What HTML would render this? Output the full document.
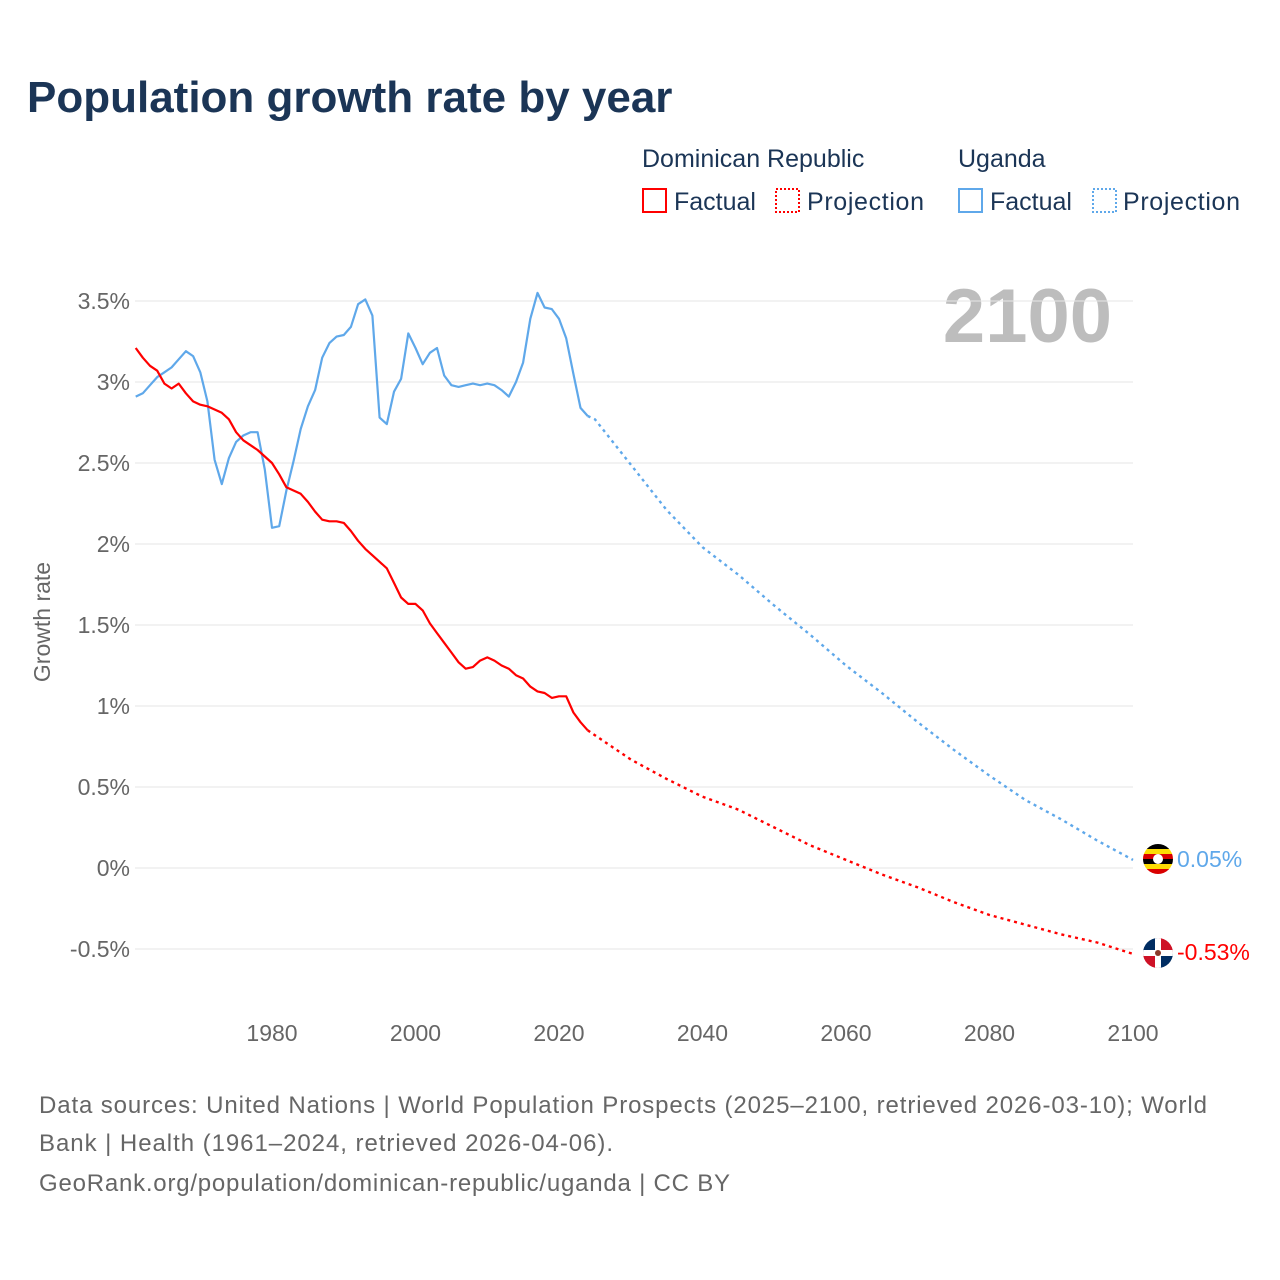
<!DOCTYPE html>
<html><head><meta charset="utf-8">
<style>
body{margin:0;background:#fff;font-family:"Liberation Sans",sans-serif;}
#wrap{position:relative;width:1280px;height:1280px;overflow:hidden;}
</style></head>
<body><div id="wrap">
<svg id="chart" width="1280" height="1280" font-family="Liberation Sans, sans-serif">
<text x="27" y="112" font-size="44" font-weight="bold" fill="#1b3556">Population growth rate by year</text>
<g font-size="25" fill="#1b3556">
<text x="642" y="167">Dominican Republic</text>
<text x="958" y="167">Uganda</text>
<g><rect x="643" y="189" width="23" height="23" fill="none" stroke="#ff0000" stroke-width="2"/><text x="674" y="210">Factual</text></g>
<g><rect x="776" y="189" width="23" height="23" fill="none" stroke="#ff0000" stroke-width="2" stroke-dasharray="2,2"/><text x="807" y="210" textLength="117">Projection</text></g>
<g><rect x="959" y="189" width="23" height="23" fill="none" stroke="#5fa8ea" stroke-width="2"/><text x="990" y="210">Factual</text></g>
<g><rect x="1093" y="189" width="23" height="23" fill="none" stroke="#5fa8ea" stroke-width="2" stroke-dasharray="2,2"/><text x="1123" y="210" textLength="117">Projection</text></g>
</g>
<text x="1112" y="342" font-size="76" font-weight="bold" fill="#bdbdbd" text-anchor="end">2100</text>
<g id="grid"></g><g id="yticks"></g><g id="xticks"></g><g id="series"></g>
<text transform="translate(50,622) rotate(-90)" font-size="23" fill="#666" text-anchor="middle">Growth rate</text>
<g>
<clipPath id="cu"><circle cx="1158" cy="859" r="15"/></clipPath>
<g clip-path="url(#cu)"><rect x="1143" y="844" width="30" height="5" fill="#000"/><rect x="1143" y="849" width="30" height="5" fill="#fcdc04"/><rect x="1143" y="854" width="30" height="5" fill="#d90000"/><rect x="1143" y="859" width="30" height="5" fill="#000"/><rect x="1143" y="864" width="30" height="5" fill="#fcdc04"/><rect x="1143" y="869" width="30" height="5" fill="#d90000"/><circle cx="1158" cy="859" r="5" fill="#fff"/></g>
</g>
<text x="1177" y="867" font-size="23" fill="#5fa8ea">0.05%</text>
<g>
<clipPath id="cd"><circle cx="1158" cy="953" r="15"/></clipPath>
<g clip-path="url(#cd)"><rect x="1143" y="938" width="15" height="15" fill="#002d62"/><rect x="1158" y="938" width="15" height="15" fill="#ce1126"/><rect x="1143" y="953" width="15" height="15" fill="#ce1126"/><rect x="1158" y="953" width="15" height="15" fill="#002d62"/><rect x="1155" y="938" width="6" height="30" fill="#fff"/><rect x="1143" y="950" width="30" height="6" fill="#fff"/><circle cx="1158" cy="953" r="3" fill="#8a3a2a"/></g>
</g>
<text x="1177" y="960" font-size="23" fill="#ff0000">-0.53%</text>
<g font-size="24" fill="#666">
<text x="39" y="1113" textLength="1168">Data sources: United Nations | World Population Prospects (2025–2100, retrieved 2026-03-10); World</text>
<text x="39" y="1151" textLength="574">Bank | Health (1961–2024, retrieved 2026-04-06).</text>
<text x="39" y="1191" textLength="691">GeoRank.org/population/dominican-republic/uganda | CC BY</text>
</g>
</svg></div>
<script>
const yTicks=[-0.5,0,0.5,1,1.5,2,2.5,3,3.5];
const yTickLabels=["-0.5%","0%","0.5%","1%","1.5%","2%","2.5%","3%","3.5%"];
const xTicks=[1980,2000,2020,2040,2060,2080,2100];
const factYears=[1961,1962,1963,1964,1965,1966,1967,1968,1969,1970,1971,1972,1973,1974,1975,1976,1977,1978,1979,1980,1981,1982,1983,1984,1985,1986,1987,1988,1989,1990,1991,1992,1993,1994,1995,1996,1997,1998,1999,2000,2001,2002,2003,2004,2005,2006,2007,2008,2009,2010,2011,2012,2013,2014,2015,2016,2017,2018,2019,2020,2021,2022,2023,2024];
const ugFactual=[2.91,2.93,2.98,3.03,3.06,3.09,3.14,3.19,3.16,3.06,2.88,2.52,2.37,2.53,2.63,2.67,2.69,2.69,2.46,2.10,2.11,2.33,2.51,2.71,2.85,2.95,3.15,3.24,3.28,3.29,3.34,3.48,3.51,3.41,2.78,2.74,2.94,3.02,3.30,3.21,3.11,3.18,3.21,3.04,2.98,2.97,2.98,2.99,2.98,2.99,2.98,2.95,2.91,3.00,3.12,3.39,3.55,3.46,3.45,3.39,3.27,3.05,2.84,2.79];
const drFactual=[3.21,3.15,3.10,3.07,2.99,2.96,2.99,2.93,2.88,2.86,2.85,2.83,2.81,2.77,2.69,2.64,2.61,2.58,2.54,2.50,2.43,2.35,2.33,2.31,2.26,2.20,2.15,2.14,2.14,2.13,2.08,2.02,1.97,1.93,1.89,1.85,1.76,1.67,1.63,1.63,1.59,1.51,1.45,1.39,1.33,1.27,1.23,1.24,1.28,1.30,1.28,1.25,1.23,1.19,1.17,1.12,1.09,1.08,1.05,1.06,1.06,0.96,0.90,0.85];
const projYears=[2024,2025,2030,2035,2040,2045,2050,2055,2060,2065,2070,2075,2080,2085,2090,2095,2100];
const ugProjection=[2.79,2.77,2.49,2.21,1.98,1.81,1.62,1.44,1.25,1.08,0.90,0.73,0.57,0.42,0.30,0.17,0.05];
const drProjection=[0.85,0.82,0.67,0.55,0.44,0.36,0.25,0.14,0.05,-0.04,-0.12,-0.21,-0.29,-0.35,-0.41,-0.46,-0.53];

const NS="http://www.w3.org/2000/svg";
const X0=135,X1=1133;
function xs(yr){return 272+(yr-1980)*(1133-272)/120;}
function ys(v){return 868-v*162;}
function mk(tag,attrs,parent){const e=document.createElementNS(NS,tag);for(const k in attrs)e.setAttribute(k,attrs[k]);document.getElementById(parent).appendChild(e);return e;}
yTicks.forEach((t,i)=>{
  const l=mk('line',{x1:X0,x2:X1,y1:ys(t),y2:ys(t),stroke:'#e6e6e6','stroke-width':1},'grid');
  
  
  const tx=mk('text',{x:130,y:ys(t)+8,'font-size':23,fill:'#666','text-anchor':'end'},'yticks');
  tx.textContent=yTickLabels[i];
  
  
});
xTicks.forEach(t=>{
  const tx=mk('text',{x:xs(t),y:1041,'font-size':23,fill:'#666','text-anchor':'middle'},'xticks');
  tx.textContent=t;
  
  
});
function line(years,vals,color,dash,name){
  const d=years.map((y,i)=>(i?'L':'M')+xs(y).toFixed(1)+','+ys(vals[i]).toFixed(1)).join('');
  const p=mk('path',{d:d,fill:'none',stroke:color,'stroke-width':dash?2.4:2.2,'stroke-linejoin':'round'},'series');
  if(dash)p.setAttribute('stroke-dasharray','3,4');
  
  
}
line(projYears,ugProjection,'#5fa8ea',true,'uganda-projection-line');
line(projYears,drProjection,'#ff0000',true,'dr-projection-line');
line(factYears,ugFactual,'#5fa8ea',false,'uganda-factual-line');
line(factYears,drFactual,'#ff0000',false,'dr-factual-line');
</script>
</body></html>
